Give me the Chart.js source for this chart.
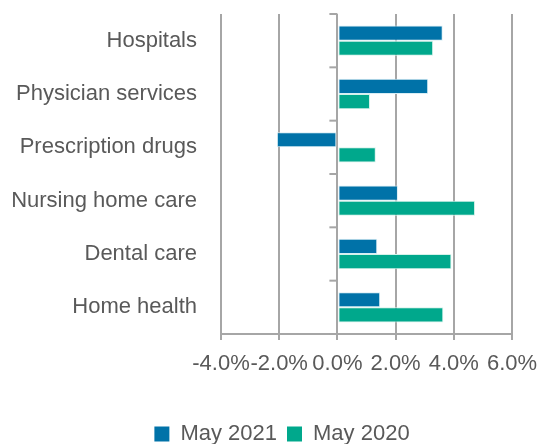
<!DOCTYPE html>
<html>
<head>
<meta charset="utf-8">
<script src="https://cdn.jsdelivr.net/npm/chart.js@4/dist/chart.umd.min.js"></script>
<style>
  html, body { margin: 0; padding: 0; background: #fff; }
  #wrap { width: 538px; height: 444px; }
</style>
</head>
<body>
<div id="wrap"><canvas id="chart" width="538" height="444"></canvas></div>
<script>
const categories = ["Hospitals", "Physician services", "Prescription drugs", "Nursing home care", "Dental care", "Home health"];
const may2021 = [3.62, 3.12, -2.08, 2.08, 1.37, 1.47];
const may2020 = [3.29, 1.12, 1.32, 4.73, 3.92, 3.64];

const textColor = "#595959";
const gridColor = "#a6a6a6";
const fontFamily = "'Liberation Sans', Arial, sans-serif";

// small tick marks on the category axis at x = 0
const zeroTicks = {
  id: "zeroTicks",
  afterDatasetsDraw(chart) {
    const ctx = chart.ctx;
    const xs = chart.scales.x;
    const ys = chart.scales.y;
    const x0 = xs.getPixelForValue(0);
    ctx.save();
    ctx.strokeStyle = gridColor;
    ctx.lineWidth = 2;
    for (let i = 0; i <= categories.length; i++) {
      const y = ys.getPixelForValue(i - 0.5);
      ctx.beginPath();
      ctx.moveTo(x0 - 8, y);
      ctx.lineTo(x0, y);
      ctx.stroke();
    }
    ctx.restore();
  }
};

// nudge the legend like the original
const legendShift = {
  id: "legendShift",
  afterLayout(chart) {
    const lg = chart.legend;
    lg.top += 11; lg.bottom += 11;
    lg.left += 26; lg.right += 26;
  }
};

new Chart(document.getElementById("chart"), {
  type: "bar",
  data: {
    labels: categories,
    datasets: [
      {
        label: "May 2021",
        data: may2021,
        backgroundColor: "#0072a8",
        borderColor: "#d8eef5",
        borderWidth: 1,
        borderSkipped: false
      },
      {
        label: "May 2020",
        data: may2020,
        backgroundColor: "#00a88c",
        borderColor: "#d5f2ea",
        borderWidth: 1,
        borderSkipped: false
      }
    ]
  },
  options: {
    indexAxis: "y",
    responsive: false,
    animation: false,
    layout: { padding: { top: 14, right: 26, left: 0, bottom: 0 } },
    datasets: {
      bar: { barPercentage: 1, categoryPercentage: 0.57 }
    },
    scales: {
      x: {
        min: -4,
        max: 6,
        afterFit: s => {
          s.height = 68;
          s.paddingLeft = 0;
          s.paddingRight = 0;
        },
        ticks: {
          stepSize: 2,
          autoSkip: false,
          color: textColor,
          font: { family: fontFamily, size: 22 },
          padding: 11,
          maxRotation: 0,
          callback: v => v.toFixed(1) + "%"
        },
        grid: {
          color: gridColor,
          lineWidth: 2,
          tickLength: 6,
          tickColor: gridColor
        },
        border: { color: gridColor, width: 2 }
      },
      y: {
        afterFit: s => { s.width = 221; },
        ticks: {
          color: textColor,
          font: { family: fontFamily, size: 22 },
          padding: 0
        },
        grid: {
          display: true,
          drawOnChartArea: false,
          drawTicks: true,
          tickLength: 24,
          tickColor: "rgba(0,0,0,0)"
        },
        border: { display: false }
      }
    },
    plugins: {
      legend: {
        position: "bottom",
        labels: {
          color: textColor,
          font: { family: fontFamily, size: 22 },
          boxWidth: 15,
          boxHeight: 15,
          padding: 10,
          generateLabels: chart => chart.data.datasets.map((d, i) => ({
            text: d.label,
            fillStyle: d.backgroundColor,
            strokeStyle: d.backgroundColor,
            lineWidth: 0,
            datasetIndex: i,
            fontColor: textColor
          }))
        }
      },
      tooltip: { enabled: false }
    }
  },
  plugins: [zeroTicks, legendShift]
});
</script>
</body>
</html>
